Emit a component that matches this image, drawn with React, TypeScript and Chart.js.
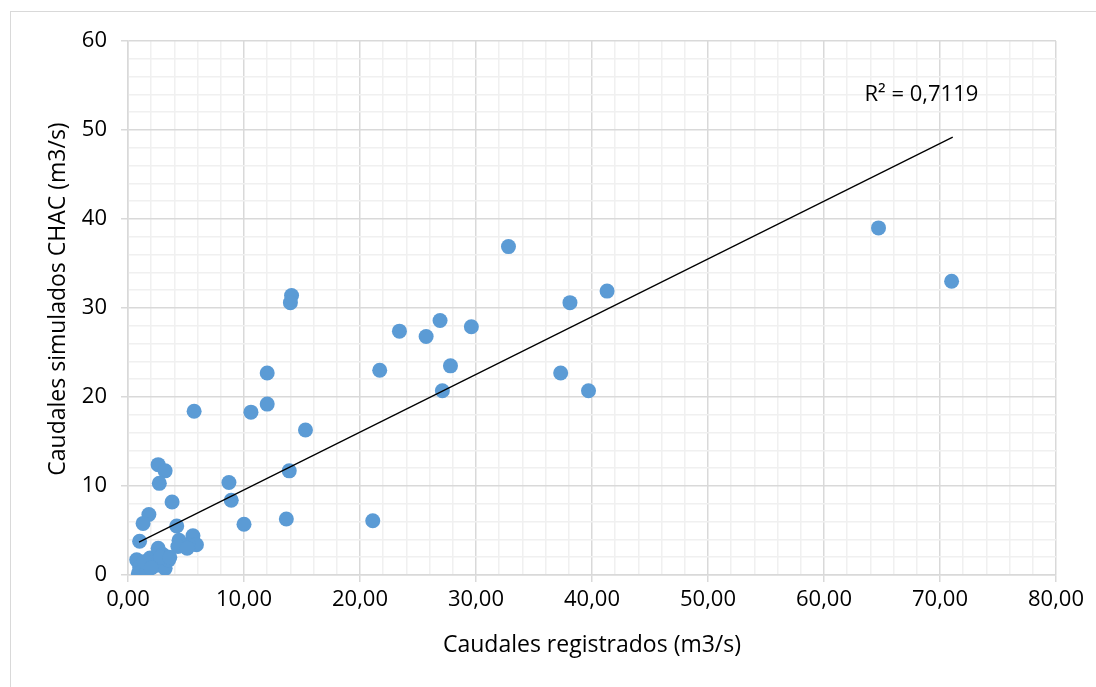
import React, { useEffect, useRef } from "react";
import { Chart, registerables } from "chart.js";

Chart.register(...registerables);

// Observed flows (x) and simulated CHAC flows (y), m3/s
const registrados: number[] = [
  71.0, 64.7, 32.8, 41.3, 38.1, 26.9, 29.6, 23.4, 25.7, 27.8, 21.7, 37.3, 27.1, 39.7,
  14.1, 14.0, 12.0, 12.0, 10.6, 15.3, 13.9, 8.7, 8.9, 10.0, 13.65, 21.1, 5.7,
  2.6, 3.2, 2.7, 3.8, 1.8, 1.3, 4.2, 1.0,
  5.6, 5.9, 5.2, 4.4, 4.3, 5.1,
  0.75, 1.0, 0.9, 1.9, 2.6, 2.5, 3.2, 3.5, 1.6, 3.0, 2.2, 1.4, 2.8, 2.0, 3.6,
];
const simulados: number[] = [
  33.0, 39.0, 36.9, 31.9, 30.6, 28.6, 27.9, 27.4, 26.8, 23.5, 23.0, 22.7, 20.7, 20.7,
  31.4, 30.6, 22.7, 19.2, 18.3, 16.3, 11.7, 10.4, 8.4, 5.7, 6.3, 6.1, 18.4,
  12.4, 11.7, 10.3, 8.2, 6.8, 5.8, 5.5, 3.8,
  4.4, 3.4, 3.4, 3.9, 3.2, 3.0,
  1.7, 0.9, 0.2, 1.9, 3.0, 1.1, 0.75, 1.7, 0.6, 2.3, 1.4, 1.5, 2.0, 0.8, 2.0,
];

// Linear trendline endpoints as drawn (x, y)
const trendX: number[] = [0.95, 71.1];
const trendY: number[] = [3.7, 49.2];
const r2Label = "R² = 0,7119";
const r2Pos = { x: 68.4, y: 54.0 };

const xTitle = "Caudales registrados (m3/s)";
const yTitle = "   Caudales simulados CHAC (m3/s)";

const FONT = "'Open Sans', Lato, sans-serif";
const FS = 23;

const isMajor = (v: number) => Math.abs(v % 10) < 1e-6;

export default function App() {
  const ref = useRef<HTMLCanvasElement | null>(null);

  useEffect(() => {
    if (!ref.current) return;
    const points = registrados.map((x, i) => ({ x, y: simulados[i] }));
    const trend = trendX.map((x, i) => ({ x, y: trendY[i] }));

    const r2Plugin = {
      id: "r2label",
      afterDatasetsDraw(chart: any) {
        const { ctx, scales } = chart;
        const px = scales.x.getPixelForValue(r2Pos.x);
        const py = scales.y.getPixelForValue(r2Pos.y);
        ctx.save();
        ctx.font = `${FS - 1}px ${FONT}`;
        ctx.fillStyle = "#000";
        ctx.textAlign = "center";
        ctx.textBaseline = "middle";
        ctx.fillText(r2Label, px, py);
        ctx.restore();
      },
    };

    const chart = new Chart(ref.current, {
      type: "scatter",
      data: {
        datasets: [
          {
            type: "line",
            label: "Tendencia",
            data: trend,
            borderColor: "#000000",
            borderWidth: 1.3,
            pointRadius: 0,
            fill: false,
            order: 0,
          } as any,
          {
            label: "Caudales",
            data: points,
            backgroundColor: "#5B9BD5",
            borderColor: "#5B9BD5",
            borderWidth: 0,
            pointRadius: 7.5,
            order: 1,
          },
        ],
      },
      options: {
        animation: false,
        responsive: true,
        maintainAspectRatio: false,
        layout: { padding: { top: 41, right: 40, left: 0, bottom: 0 } },
        plugins: {
          legend: { display: false },
          tooltip: { enabled: false },
        },
        scales: {
          x: {
            type: "linear",
            min: 0,
            max: 80,
            afterFit: (s: any) => {
              s.height = 112;
            },
            ticks: {
              stepSize: 2,
              autoSkip: false,
              maxRotation: 0,
              padding: 5,
              color: "#000",
              font: { family: FONT, size: FS - 1 },
              callback: (v: any) => (isMajor(Number(v)) ? Number(v).toFixed(2).replace(".", ",") : ""),
            },
            grid: {
              color: (c: any) => (isMajor(c.tick.value) ? "#d9d9d9" : "#f0f0f0"),
              tickColor: (c: any) => (isMajor(c.tick.value) ? "#d9d9d9" : "rgba(0,0,0,0)"),
              tickLength: 7,
              lineWidth: 1.5,
            },
            border: { color: "#d9d9d9", width: 1.5 },
            title: {
              display: true,
              text: xTitle,
              color: "#000",
              font: { family: FONT, size: FS },
              padding: { top: 0, bottom: 28 },
            },
          },
          y: {
            type: "linear",
            min: 0,
            max: 60,
            afterFit: (s: any) => {
              s.width = 128;
            },
            ticks: {
              stepSize: 2,
              autoSkip: false,
              padding: 14,
              color: "#000",
              font: { family: FONT, size: FS - 1 },
              callback: (v: any) => (isMajor(Number(v)) ? String(v) : ""),
            },
            grid: {
              color: (c: any) => (isMajor(c.tick.value) ? "#d9d9d9" : "#f0f0f0"),
              tickColor: (c: any) => (isMajor(c.tick.value) ? "#d9d9d9" : "rgba(0,0,0,0)"),
              tickLength: 7,
              lineWidth: 1.5,
            },
            border: { color: "#d9d9d9", width: 1.5 },
            title: {
              display: true,
              text: yTitle,
              color: "#000",
              font: { family: FONT, size: FS },
              padding: { top: 45, bottom: 0 },
            },
          },
        },
      },
      plugins: [r2Plugin],
    });
    return () => chart.destroy();
  }, []);

  return (
    <div style={{ position: "absolute", left: 0, top: 0, width: 1096, height: 687, background: "#fff" }}>
      <div
        style={{
          position: "absolute",
          left: 10,
          top: 11,
          right: 0,
          bottom: 0,
          borderLeft: "1px solid #d9d9d9",
          borderTop: "1px solid #d9d9d9",
        }}
      />
      <canvas ref={ref} style={{ position: "absolute", left: 0, top: 0, width: 1096, height: 687 }} />
    </div>
  );
}
